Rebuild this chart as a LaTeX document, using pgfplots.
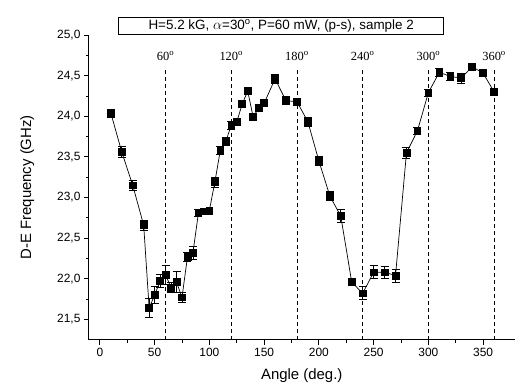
\documentclass[border=0pt]{standalone}
\usepackage{fontspec}
\setmainfont{Liberation Sans}
\newfontfamily\timesf{Liberation Serif}
\usepackage{pgfplots}
\pgfplotsset{compat=1.18}
\begin{document}
\begin{tikzpicture}
\begin{axis}[
  at={(0,0)}, anchor=south west,
  scale only axis, width=426bp, height=305bp,
  xmin=-10, xmax=378.7, ymin=21.25, ymax=25.0,
  axis x line*=bottom, axis y line*=left,
  axis line style={black, line width=0.9bp, -},
  xtick={0,50,...,350}, minor x tick num=1,
  ytick={21.5,22.0,...,25.0}, minor y tick num=1,
  tick align=outside,
  major tick length=5bp, minor tick length=3bp,
  tick style={black, line width=0.8bp},
  ticklabel style={font=\fontsize{12}{14}\selectfont},
  /pgf/number format/assume math mode=true,
  yticklabel style={/pgf/number format/.cd, use comma, fixed, fixed zerofill, precision=1},
  xticklabel style={/pgf/number format/.cd, fixed, precision=0},
  xlabel={Angle (deg.)}, ylabel={D-E Frequency (GHz)},
  label style={font=\fontsize{15}{17}\selectfont},
  xlabel style={yshift=-5bp},
  ylabel style={yshift=16bp},
  clip=false,
]
\foreach \a in {60,120,180,240,300,360}{
  \edef\tmp{\noexpand\addplot[black, dashed, line width=0.8bp, dash pattern=on 4bp off 3bp] coordinates {(\a,21.25) (\a,24.57)};}
  \tmp
  \edef\tmp{\noexpand\node[font=\noexpand\timesf\noexpand\fontsize{12.5}{14}\noexpand\selectfont] at (axis cs:\a,24.74) {\a\noexpand\textsuperscript{o}};}
  \tmp
}
\addplot[black, line width=0.7bp, mark=square*, mark size=3.4bp,
  mark options={solid, fill=black},
  error bars/.cd, y dir=both, y explicit,
  error mark options={black, rotate=90, mark size=4bp, line width=0.8bp},
  error bar style={black, line width=0.8bp}]
table[x=a, y=f, y error=e] {
a f e
10 24.04 0.05
20 23.56 0.07
30 23.15 0.06
40 22.66 0.06
45 21.64 0.12
50 21.80 0.10
55 21.97 0.08
60 22.05 0.12
65 21.89 0.06
70 21.96 0.13
75 21.77 0.06
80 22.27 0.06
85 22.32 0.08
90 22.81 0.04
95 22.83 0.04
100 22.84 0.03
105 23.19 0.06
110 23.58 0.05
115 23.69 0.05
120 23.89 0.05
125 23.93 0.04
130 24.15 0.04
135 24.31 0.04
140 23.99 0.03
145 24.10 0.03
150 24.16 0.03
160 24.46 0.05
170 24.19 0.05
180 24.18 0.04
190 23.93 0.05
200 23.45 0.06
210 23.02 0.05
220 22.77 0.08
230 21.96 0.04
240 21.82 0.08
250 22.08 0.08
260 22.08 0.07
270 22.04 0.08
280 23.55 0.07
290 23.82 0.04
300 24.29 0.04
310 24.54 0.05
320 24.49 0.05
330 24.47 0.06
340 24.61 0.04
350 24.53 0.04
360 24.30 0.04
};
\node[draw=black, line width=0.9bp, minimum width=325bp, minimum height=17bp, inner sep=0pt,
  font=\fontsize{13.5}{15}\selectfont] at (axis cs:165.6,25.116)
  {H=5.2 kG, $\alpha$=30\textsuperscript{o}, P=60 mW, (p-s), sample 2};
\end{axis}
\path (-89bp,-52bp) rectangle (426bp,340bp);
\end{tikzpicture}
\end{document}
